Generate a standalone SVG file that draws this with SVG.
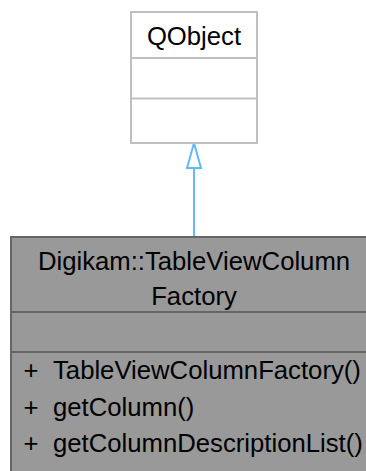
<svg xmlns="http://www.w3.org/2000/svg" width="366" height="471" viewBox="0 0 366 471">
<style>
  text { font-family: "Liberation Sans", Arial, Helvetica, sans-serif; font-size: 25.7px; fill: #000; }
  .mid { text-anchor: middle; }
  .base { fill: #ffffff; stroke: #bfbfbf; stroke-width: 2; }
  .baseline { stroke: #bfbfbf; stroke-width: 2; fill: none; }
  .cls { fill: #999999; stroke: #666666; stroke-width: 2; }
  .clsline { stroke: #666666; stroke-width: 2; fill: none; }
  .edge { stroke: #63b8ff; stroke-width: 2; fill: none; }
  .head { stroke: #63b8ff; stroke-width: 2; fill: #ffffff; }
</style>
<rect width="366" height="471" fill="#ffffff"/>
<g id="connectors">
  <line class="edge" x1="194" y1="168" x2="194" y2="237"/>
  <polygon class="head" points="194,143 187,168 201,168"/>
</g>
<g id="QObject">
  <rect class="base" x="131" y="12" width="126" height="131"/>
  <line class="baseline" x1="131" y1="58" x2="257" y2="58"/>
  <line class="baseline" x1="131" y1="98.5" x2="257" y2="98.5"/>
  <text class="mid" x="194" y="45">QObject</text>
</g>
<g id="TableViewColumnFactory">
  <rect class="cls" x="11" y="237" width="366" height="245"/>
  <line class="clsline" x1="11" y1="312" x2="377" y2="312"/>
  <line class="clsline" x1="11" y1="352" x2="377" y2="352"/>
  <text class="mid" x="194" y="269.5">Digikam::TableViewColumn</text>
  <text class="mid" x="194" y="304.5">Factory</text>
  <text x="23.5" y="379">+<tspan x="53">TableViewColumnFactory()</tspan></text>
  <text x="23.5" y="415.5">+<tspan x="53">getColumn()</tspan></text>
  <text x="23.5" y="452">+<tspan x="53">getColumnDescriptionList()</tspan></text>
</g>
</svg>
